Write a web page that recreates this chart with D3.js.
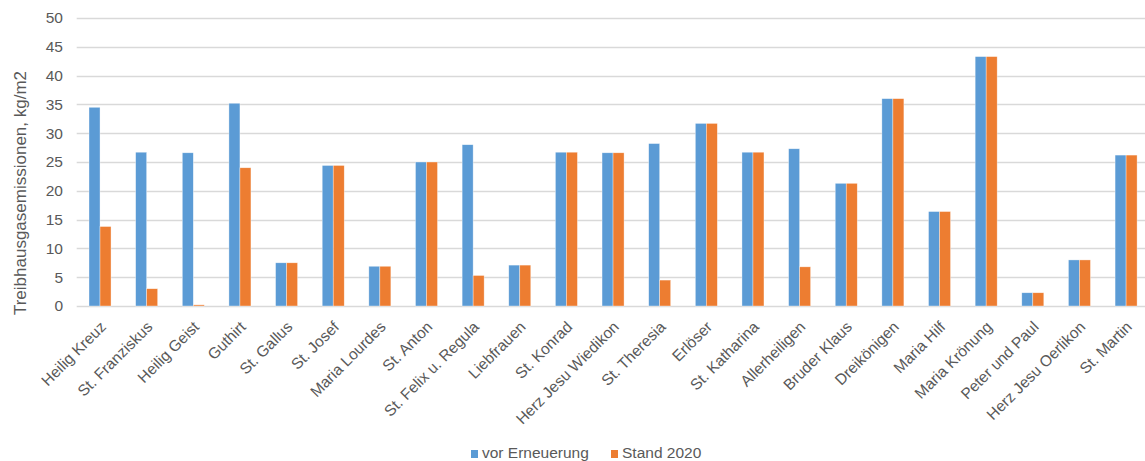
<!DOCTYPE html>
<html><head><meta charset="utf-8">
<script src="https://cdn.jsdelivr.net/npm/d3@7"></script>
<style>
body{margin:0;background:#fff;}
text{font-family:"Liberation Sans",Arial,sans-serif;fill:#595959;}
</style></head>
<body><svg id="c" width="1145" height="461"></svg>
<script>
const categories = ["Heilig Kreuz","St. Franziskus","Heilig Geist","Guthirt","St. Gallus","St. Josef","Maria Lourdes","St. Anton","St. Felix u. Regula","Liebfrauen","St. Konrad","Herz Jesu Wiedikon","St. Theresia","Erlöser","St. Katharina","Allerheiligen","Bruder Klaus","Dreikönigen","Maria Hilf","Maria Krönung","Peter und Paul","Herz Jesu Oerlikon","St. Martin"];
const vorErneuerung = [34.5,26.7,26.6,35.2,7.5,24.4,6.9,25.0,28.0,7.1,26.7,26.6,28.2,31.7,26.7,27.3,21.3,36.0,16.4,43.3,2.3,8.0,26.2];
const stand2020 = [13.8,3.0,0.2,24.0,7.5,24.4,6.9,25.0,5.3,7.1,26.7,26.6,4.5,31.7,26.7,6.8,21.3,36.0,16.4,43.3,2.3,8.0,26.2];
const seriesNames = ["vor Erneuerung","Stand 2020"];
const yTicks = [0,5,10,15,20,25,30,35,40,45,50];
const colors = ["#5B9BD5","#ED7D31"];

const svg = d3.select("#c");
const x = d3.scaleBand().domain(categories).range([76.7,1149.4]).paddingInner(0.528).paddingOuter(0.264);
const xs = d3.scaleBand().domain(seriesNames).range([0,x.bandwidth()]);
const y = d3.scaleLinear().domain([0,50]).range([306,18]);

// gridlines
svg.append("g").selectAll("line").data(yTicks).join("line")
  .attr("x1",76.7).attr("x2",1149.4)
  .attr("y1",d=>Math.round(y(d))+0.5).attr("y2",d=>Math.round(y(d))+0.5)
  .attr("stroke","#d9d9d9").attr("stroke-width",1.3);

// y tick labels
const yAxis = d3.axisLeft(y).tickValues(yTicks).tickSize(0).tickPadding(0);
const ga = svg.append("g").attr("transform","translate(63,0)").call(yAxis);
ga.select(".domain").remove();
ga.selectAll("text").attr("font-size","15.5px").attr("fill","#595959").style("font-family","Liberation Sans, Arial, sans-serif");

// bars
const data = [vorErneuerung, stand2020];
data.forEach((vals,si)=>{
  svg.append("g").selectAll("rect").data(vals).join("rect")
    .attr("x",(d,i)=>x(categories[i])+xs(seriesNames[si]))
    .attr("width",xs.bandwidth())
    .attr("y",d=>y(d))
    .attr("height",d=>y(0)-y(d))
    .attr("fill",colors[si])
    .attr("stroke","#ffffff").attr("stroke-opacity",0.6).attr("stroke-width",0.6);
});

// x labels
const xAxis = d3.axisBottom(x).tickSize(0).tickPadding(0);
const gx = svg.append("g").attr("transform","translate(0,306)").call(xAxis);
gx.select(".domain").remove();
gx.selectAll("text")
  .attr("font-size","15.5px").attr("fill","#595959").style("font-family","Liberation Sans, Arial, sans-serif")
  .attr("text-anchor","end")
  .attr("y",0).attr("dy","0.35em")
  .attr("transform","translate(3,18) rotate(-45)");

// y title
svg.append("text").attr("transform","translate(26,193) rotate(-90)")
  .attr("text-anchor","middle").attr("font-size","17px").text("Treibhausgasemissionen, kg/m2");

// legend
const leg = [{n:seriesNames[0],c:colors[0],x:471},{n:seriesNames[1],c:colors[1],x:611}];
const lg = svg.append("g").selectAll("g").data(leg).join("g");
lg.append("rect").attr("x",d=>d.x).attr("y",450).attr("width",7).attr("height",8).attr("fill",d=>d.c);
lg.append("text").attr("x",d=>d.x+11).attr("y",458).attr("font-size","15.5px").text(d=>d.n);
</script></body></html>
